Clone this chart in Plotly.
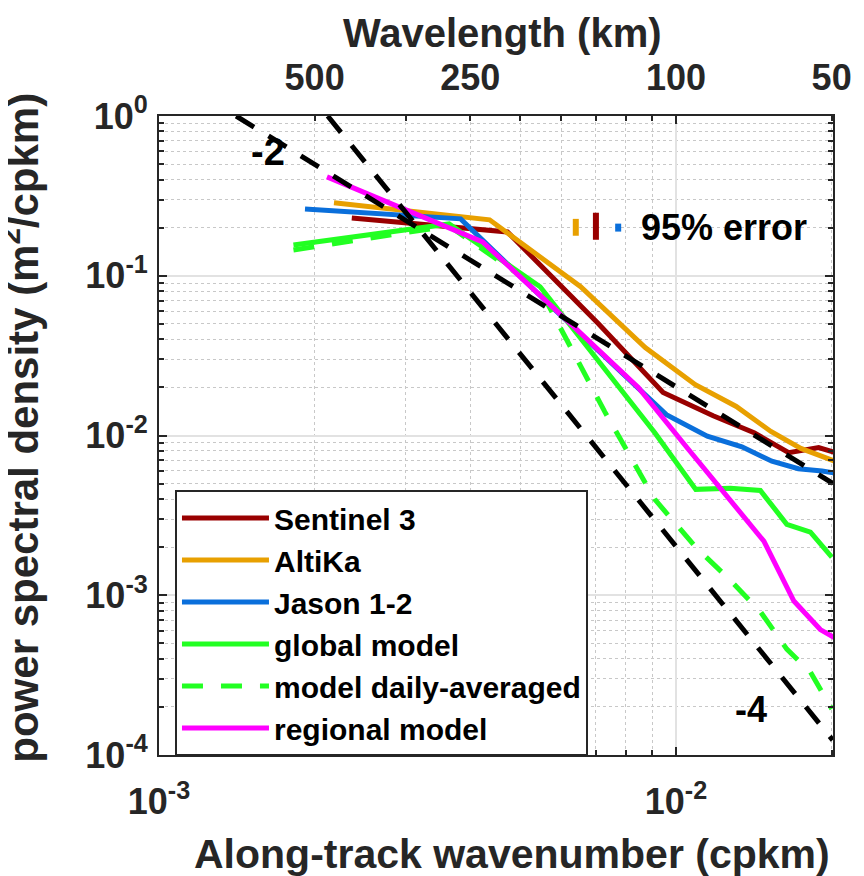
import math
import plotly.graph_objects as go

# ---------------- data ----------------
sentinel_k = [0.00236, 0.00472, 0.00708, 0.00944, 0.0118, 0.01416, 0.01652, 0.01888, 0.02124]
sentinel_psd = [0.230, 0.188, 0.0501, 0.0186, 0.0133, 0.0104, 0.0078, 0.0084, 0.0075]

altika_k = [0.00218, 0.00436, 0.00654, 0.00872, 0.0109, 0.01308, 0.01526, 0.01744, 0.01962, 0.0218]
altika_psd = [0.286, 0.224, 0.0853, 0.0355, 0.0208, 0.0152, 0.0106, 0.0083, 0.0072, 0.0063]

jason_k = [0.001916, 0.003832, 0.005748, 0.007664, 0.00958, 0.011496, 0.013412, 0.015328, 0.017244, 0.01916, 0.021076]
jason_psd = [0.262, 0.227, 0.064, 0.027, 0.0135, 0.0099, 0.0085, 0.0069, 0.0062, 0.0060, 0.0057]

global_k = [0.00182, 0.00364, 0.00546, 0.00728, 0.0091, 0.01092, 0.01274, 0.01456, 0.01638, 0.0182, 0.02002]
global_psd = [0.156, 0.211, 0.0853, 0.0259, 0.0104, 0.0046, 0.00467, 0.00453, 0.00278, 0.00248, 0.00173]

daily_k = [0.00182, 0.00364, 0.00546, 0.00728, 0.0091, 0.01092, 0.01274, 0.01456, 0.01638, 0.0182, 0.02002]
daily_psd = [0.145, 0.205, 0.082, 0.0141, 0.00398, 0.0020, 0.00124, 0.00079, 0.00046, 0.00033, 0.000194]

regional_k = [0.002113, 0.004226, 0.006339, 0.008452, 0.010565, 0.012678, 0.014791, 0.016904, 0.019017, 0.02113]
regional_psd = [0.416, 0.163, 0.048, 0.0200, 0.0082, 0.0040, 0.00218, 0.00092, 0.00061, 0.0005]

# reference slope lines (end points)
slope2_k = [0.00141, 0.0201]
slope2_psd = [1.0, 0.00502]
slope4_k = [0.00212, 0.0201]
slope4_psd = [1.0, 0.000124]

# 95% error bars
err_k = [0.0064, 0.0070, 0.00773]
err_lo = [0.178, 0.168, 0.189]
err_hi = [0.227, 0.248, 0.212]

# axis ticks
x_ticks = [1e-3, 1e-2]
x_ticktext = ["10<sup>-3</sup>", "10<sup>-2</sup>"]
y_ticks = [1e-4, 1e-3, 1e-2, 1e-1, 1e0]
y_ticktext = ["10<sup>-4</sup>", "10<sup>-3</sup>", "10<sup>-2</sup>", "10<sup>-1</sup>", "10<sup>0</sup>"]
wavelength_km = [500, 250, 100, 50]
x_minor = [m * 1e-3 for m in range(2, 10)] + [2e-2]
y_minor = [m * 10.0 ** d for d in range(-4, 0) for m in range(2, 10)]

# ---------------- style ----------------
C_SENT = "#990000"
C_ALTI = "#E8A000"
C_JAS = "#0A6FDB"
C_GLOB = "#22FF22"
C_REG = "#FF00FF"
AX = "#262626"
SANS = "Liberation Sans, Arial, Helvetica, sans-serif"
XR = [-3, -1.6963]

fig = go.Figure()

def add_line(k, p, color, name, dash="solid", legend=True, width=5):
    fig.add_trace(go.Scatter(x=k, y=p, mode="lines", name=name, showlegend=legend,
                             line=dict(color=color, width=width, dash=dash),
                             hoverinfo="skip"))

add_line(sentinel_k, sentinel_psd, C_SENT, "Sentinel 3")
add_line(altika_k, altika_psd, C_ALTI, "AltiKa")
add_line(jason_k, jason_psd, C_JAS, "Jason 1-2")
add_line(global_k, global_psd, C_GLOB, "global model")
add_line(daily_k, daily_psd, C_GLOB, "model daily-averaged", dash="21px,18px")
add_line(regional_k, regional_psd, C_REG, "regional model")
add_line(slope2_k, slope2_psd, "black", "k^-2", dash="21px,17px", legend=False)
add_line(slope4_k, slope4_psd, "black", "k^-4", dash="21px,17px", legend=False)

for kk, lo, hi, col in zip(err_k, err_lo, err_hi, [C_ALTI, C_SENT, C_JAS]):
    fig.add_trace(go.Scatter(x=[kk, kk], y=[lo, hi], mode="lines", showlegend=False,
                             line=dict(color=col, width=6), hoverinfo="skip"))

# helper trace to activate the top axis
fig.add_trace(go.Scatter(x=[1.0 / w for w in wavelength_km], y=[None] * len(wavelength_km),
                         xaxis="x2", mode="lines", showlegend=False, hoverinfo="skip"))

tickfont = dict(family=SANS, size=36, color=AX, weight="bold")
common = dict(type="log", showline=True, linecolor=AX, linewidth=2, mirror="ticks",
              ticks="inside", ticklen=8, tickwidth=1.5, tickcolor=AX,
              showgrid=True, gridcolor="#E2E2E2", gridwidth=1.5, zeroline=False,
              tickfont=tickfont, automargin=False)

# page body adds an 8px offset; margins compensate so the frame sits at 159..833 x 116..755
fig.update_layout(
    width=864, height=876,
    margin=dict(l=151, r=39, t=108, b=129, autoexpand=False),
    paper_bgcolor="white", plot_bgcolor="white",
    showlegend=True,
    xaxis=dict(range=XR, tickmode="array", tickvals=x_ticks, ticktext=x_ticktext,
               ticklabelstandoff=14,
               minor=dict(tickmode="array", tickvals=x_minor, ticks="inside", ticklen=5,
                          tickcolor=AX, showgrid=True, gridcolor="#C8C8C8",
                          griddash="dot", gridwidth=1.2),
               **common),
    xaxis2=dict(type="log", range=XR, overlaying="x", side="top", anchor="y",
                tickmode="array", tickvals=[1.0 / w for w in wavelength_km],
                ticktext=[str(w) for w in wavelength_km], ticks="", showgrid=False,
                showline=False, zeroline=False, tickfont=tickfont, ticklabelstandoff=18,
                automargin=False),
    yaxis=dict(range=[-4, 0], tickmode="array", tickvals=y_ticks, ticktext=y_ticktext,
               ticklabelstandoff=2,
               minor=dict(tickmode="array", tickvals=y_minor, ticks="inside", ticklen=5,
                          tickcolor=AX, showgrid=True, gridcolor="#C8C8C8",
                          griddash="dot", gridwidth=1.2),
               **common),
    legend=dict(x=0.0237, y=0.4147, xanchor="left", yanchor="top",
                bgcolor="white", bordercolor=AX, borderwidth=2,
                font=dict(family=SANS, size=30, color="black", weight="bold"),
                itemwidth=87, tracegroupgap=0),
    annotations=[
        dict(text="Wavelength (km)", xref="paper", yref="paper", x=0.509, y=1.13,
             xanchor="center", yanchor="middle", showarrow=False,
             font=dict(family=SANS, size=40, color=AX, weight="bold")),
        dict(text="Along-track wavenumber (cpkm)", xref="paper", yref="paper", x=0.524, y=-0.1543,
             xanchor="center", yanchor="middle", showarrow=False,
             font=dict(family=SANS, size=41, color=AX, weight="bold")),
        dict(text="power spectral density (m<sup>2</sup>/cpkm)", xref="paper", yref="paper",
             x=-0.2055, y=0.513, textangle=-90, xanchor="center", yanchor="middle",
             showarrow=False, font=dict(family=SANS, size=42, color=AX, weight="bold")),
        dict(text="-2", x=math.log10(0.001625), y=math.log10(0.596), showarrow=False,
             font=dict(family=SANS, size=38, color="black", weight="bold")),
        dict(text="-4", x=math.log10(0.01396), y=math.log10(1.94e-4), showarrow=False,
             font=dict(family=SANS, size=36, color="black", weight="bold")),
        dict(text="95% error", x=math.log10(0.00848), y=math.log10(0.2), xanchor="left",
             yanchor="middle", showarrow=False,
             font=dict(family=SANS, size=36, color="black", weight="bold")),
    ],
)

fig.write_html("out.html")
